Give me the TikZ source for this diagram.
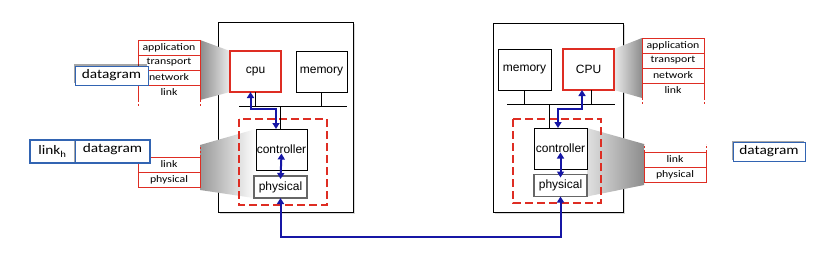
\documentclass[tikz,border=0pt]{standalone}
\usepackage{fontspec}
\setmainfont{Liberation Sans}
\newfontfamily\stackfont[FakeStretch=1.18]{Carlito}
\usetikzlibrary{arrows.meta,positioning,calc,shadows}
\definecolor{stackred}{RGB}{222,45,35}
\definecolor{pktblue}{RGB}{50,100,178}
\definecolor{linkblue}{RGB}{22,22,165}
\newcommand\layerfont{\stackfont\fontsize{10}{11}\selectfont}
\newcommand\dgfont{\stackfont\fontsize{13}{14}\selectfont}
\pgfdeclarelayer{hosts}
\pgfdeclarelayer{lens}
\pgfsetlayers{hosts,lens,main}

\begin{document}
\begin{tikzpicture}[x=1pt,y=-1pt,>={Triangle[width=7pt,length=6pt]},
  host/.style={draw,fill=white,line width=.8pt,inner sep=0pt,outer sep=0pt,
    drop shadow={shadow xshift=2pt,shadow yshift=-2pt,opacity=.3}},
  hw/.style={draw,fill=white,line width=.8pt,inner sep=0pt,outer sep=0pt,
    minimum width=51pt,minimum height=41pt,font=\fontsize{12}{13}\selectfont},
  proc/.style={hw,draw=stackred,line width=1.4pt},
  phy/.style={hw,draw=black!60,line width=1.2pt,minimum width=53pt,minimum height=22pt},
  adapter/.style={draw=stackred,line width=1.5pt,dash pattern=on 8pt off 4pt},
  layer/.style={draw=stackred,fill=white,line width=.8pt,inner sep=0pt,outer sep=0pt,
    minimum width=62pt,minimum height=15pt,font=\layerfont},
  stackline/.style={stackred,line width=.8pt},
  stackdash/.style={stackline,dash pattern=on 2pt off 2pt},
  pkt/.style={draw=pktblue,fill=white,line width=.9pt,inner sep=0pt,outer sep=0pt,
    minimum height=19pt,font=\dgfont,
    general shadow={fill=black,opacity=.35,shadow xshift=-1.5pt,shadow yshift=1.5pt}},
  busarrow/.style={<->,draw=linkblue,line width=2pt}]
\useasboundingbox (0,0) rectangle (822,254);

% hosts
\begin{pgfonlayer}{hosts}
\node[host,minimum width=135pt,minimum height=190pt] (hostL) at (285.5,117) {};
\node[host,minimum width=130pt,minimum height=189pt] (hostR) at (558,117.5) {};
\end{pgfonlayer}

% left host
\node[proc] (cpuL) at (255.5,71.5) {cpu};
\node[hw] (memL) at (321.5,71.5) {memory};
\node[hw] (ctrlL) at (281.5,149.5) {controller};
\node[phy] (phyL) at (280.5,187) {physical};
\draw[adapter] (239,119) rectangle (327,205);
\coordinate (bLa) at (239,106);
\coordinate (bLb) at (347,106);
\draw (bLa) -- (bLb);
\draw (cpuL.south) -- (cpuL.south |- bLa);
\draw (memL.south) -- (memL.south |- bLa);
\draw ([xshift=-1.5pt]ctrlL.north) -- ([xshift=-1.5pt]ctrlL.north |- bLa);

% right host
\node[hw,minimum width=53pt] (memR) at (524.5,69.5) {memory};
\node[proc] (cpuR) at (588.5,69.5) {CPU};
\node[hw,minimum width=53pt] (ctrlR) at (560.5,148.5) {controller};
\node[phy] (phyR) at (560.5,185.5) {physical};
\draw[adapter] (513,119) rectangle (601,203);
\coordinate (bRa) at (507,104);
\coordinate (bRb) at (615,104);
\draw (bRa) -- (bRb);
\draw (memR.south) -- (memR.south |- bRa);
\draw ([xshift=2.5pt]cpuR.south) -- ([xshift=2.5pt]cpuR.south |- bRa);
\draw ([xshift=-11.5pt]ctrlR.north) -- ([xshift=-11.5pt]ctrlR.north |- bRa);

% protocol stacks
\node[layer] (apL) at (169,47.5) {application};
\node[layer,below=0pt of apL] (trL) {transport};
\node[layer,below=0pt of trL] (nwL) {network};
\node[layer,draw=none,fill=none,below=0pt of nwL] (lkL) {link};
\draw[stackline] (nwL.south west) -- (lkL.south west);
\draw[stackline] (nwL.south east) -- (lkL.south east);
\draw[stackdash] (lkL.south west) -- ++(0,7);
\draw[stackdash] (lkL.south east) -- ++(0,7);

\node[layer] (lnL) at (169,164.5) {link};
\node[layer,below=0pt of lnL] (psL) {physical};
\draw[stackdash] (lnL.north west) -- ++(0,-12);
\draw[stackdash] (lnL.north east) -- ++(0,-12);

\node[layer] (apR) at (673,45.5) {application};
\node[layer,below=0pt of apR] (trR) {transport};
\node[layer,below=0pt of trR] (nwR) {network};
\node[layer,draw=none,fill=none,below=0pt of nwR] (lkR) {link};
\draw[stackline] (nwR.south west) -- (lkR.south west);
\draw[stackline] (nwR.south east) -- (lkR.south east);
\draw[stackdash] (lkR.south west) -- ++(0,7);
\draw[stackdash] (lkR.south east) -- ++(0,7);

\node[layer] (lnR) at (675,159.5) {link};
\node[layer,below=0pt of lnR] (psR) {physical};
\draw[stackdash] (lnR.north west) -- ++(0,-8);
\draw[stackdash] (lnR.north east) -- ++(0,-8);

% zoom fans
\begin{pgfonlayer}{lens}
\shade[left color=black!45,right color=black!8]
  (apL.north east) -- (cpuL.north west) -- (cpuL.south west) -- (lkL.south east) -- cycle;
\shade[left color=black!40,right color=white]
  ([yshift=12pt]lnL.north east) -- (ctrlL.north west) -- (phyL.south west) -- ([yshift=-3pt]psL.south east) -- cycle;
\shade[left color=black!8,right color=black!45]
  (cpuR.north east) -- (apR.north west) -- (lkR.south west) -- (cpuR.south east) -- cycle;
\shade[left color=black!12,right color=black!45]
  (ctrlR.north east) -- ([yshift=8pt]lnR.north west) -- ([yshift=-3pt]psR.south west) -- (phyR.south east) -- cycle;
\end{pgfonlayer}

% datagrams
\node[pkt,minimum width=73pt] (dgL) at (111.5,75.5) {datagram};
\node[pkt,minimum width=72pt] (dgR) at (769,151.5) {datagram};
\node[pkt,minimum width=45pt,minimum height=23pt] (lhL) at (52.5,151.5) {link\textsubscript{h}};
\node[pkt,minimum width=75pt,minimum height=23pt,text depth=7pt,right=0pt of lhL] (dgB) {datagram};
\draw[pktblue,line width=1.6pt] (lhL.north west) rectangle (dgB.south east);

% links
\coordinate (jL) at (265,109);
\draw[busarrow] ([xshift=-5.5pt]ctrlL.north) |- (jL) -| ([xshift=-5pt]cpuL.south);
\draw[busarrow] ([yshift=-4pt]ctrlL.center) -- ([yshift=-3pt]phyL.north);
\coordinate (jR) at (570,108.5);
\draw[busarrow] ([xshift=-2.5pt]ctrlR.north) |- (jR) -| ([xshift=-6.5pt]cpuR.south);
\draw[busarrow] ([yshift=-4pt]ctrlR.center) -- ([yshift=-3pt]phyR.north);
\coordinate (wire) at (420,237);
\draw[busarrow] (phyL.south) |- (wire) -| (phyR.south);
\end{tikzpicture}
\end{document}
